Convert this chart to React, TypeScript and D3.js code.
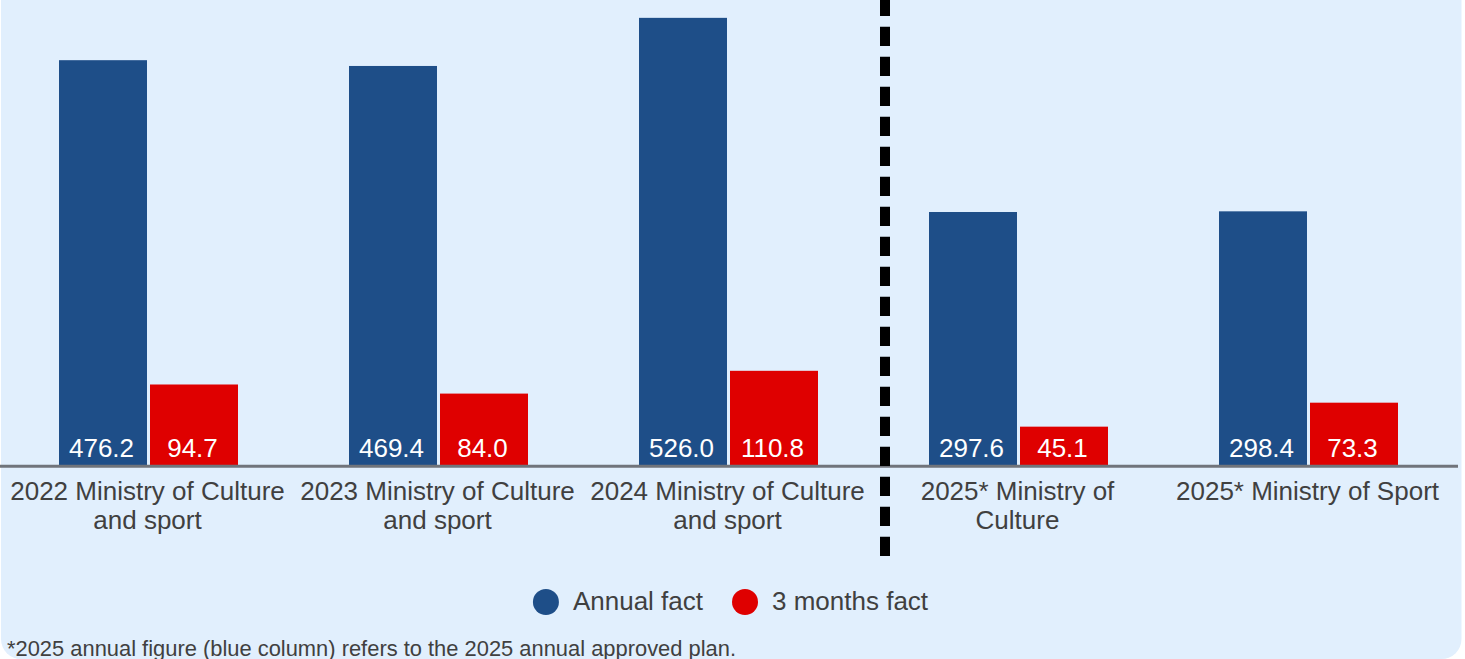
import React, { useEffect, useRef } from 'react';
import * as d3 from 'd3';

const categories = ['2022', '2023', '2024', '2025a', '2025b'];
const categoryLabels: string[][] = [
  ['2022 Ministry of Culture', 'and sport'],
  ['2023 Ministry of Culture', 'and sport'],
  ['2024 Ministry of Culture', 'and sport'],
  ['2025* Ministry of', 'Culture'],
  ['2025* Ministry of Sport'],
];
const seriesNames = ['Annual fact', '3 months fact'];
const annualFact = [476.2, 469.4, 526.0, 297.6, 298.4];
const threeMonthsFact = [94.7, 84.0, 110.8, 45.1, 73.3];
const seriesColors = ['#1e4e88', '#df0000'];
const footnote = '*2025 annual figure (blue column) refers to the 2025 annual approved plan.';

const W = 1465;
const H = 659;
const FONT = '"Liberation Sans", Arial, sans-serif';

const App: React.FC = () => {
  const ref = useRef<SVGSVGElement | null>(null);

  useEffect(() => {
    const svg = d3.select(ref.current);
    svg.selectAll('*').remove();

    // background panel, bottom corners rounded
    svg.append('rect')
      .attr('x', 1)
      .attr('y', -30)
      .attr('width', 1460.5)
      .attr('height', H + 30)
      .attr('rx', 20)
      .attr('fill', '#e1effd');

    const x = d3.scaleBand<string>()
      .domain(categories)
      .range([3.5, 1453.5]);

    const inner = d3.scaleBand<string>()
      .domain(seriesNames)
      .range([-89.5, 89.5])
      .paddingInner(0.033);

    const y = d3.scaleLinear().domain([0, 547]).range([465, 0]);

    const rows = categories.map((c, i) => ({
      cat: c,
      values: [annualFact[i], threeMonthsFact[i]],
    }));

    const groups = svg.append('g')
      .selectAll('g')
      .data(rows)
      .enter()
      .append('g')
      .attr('transform', (d) => `translate(${(x(d.cat) as number) + x.bandwidth() / 2},0)`);

    seriesNames.forEach((s, si) => {
      groups.append('rect')
        .attr('x', inner(s) as number)
        .attr('y', (d) => y(d.values[si]))
        .attr('width', inner.bandwidth())
        .attr('height', (d) => y(0) - y(d.values[si]))
        .attr('fill', seriesColors[si]);

      groups.append('text')
        .attr('x', (inner(s) as number) + inner.bandwidth() / 2 - 1.5)
        .attr('y', y(0) - 8)
        .attr('text-anchor', 'middle')
        .attr('font-family', FONT)
        .attr('font-size', 26)
        .attr('fill', '#ffffff')
        .text((d) => d.values[si].toFixed(1));
    });

    // axis line
    svg.append('line')
      .attr('x1', 0)
      .attr('x2', 1458)
      .attr('y1', y(0) + 1.2)
      .attr('y2', y(0) + 1.2)
      .attr('stroke', '#70747b')
      .attr('stroke-width', 3);

    // category labels
    groups.each(function (d, i) {
      const t = d3.select(this).append('text')
        .attr('text-anchor', 'middle')
        .attr('font-family', FONT)
        .attr('font-size', 26)
        .attr('fill', '#404040');
      categoryLabels[i].forEach((line, li) => {
        t.append('tspan').attr('x', -1).attr('y', 499.5 + li * 29).text(line);
      });
    });

    // dashed separator between 2024 and 2025
    const sepX = ((x('2024') as number) + x.bandwidth() + (x('2025a') as number)) / 2 + 11.5;
    svg.append('line')
      .attr('x1', sepX)
      .attr('x2', sepX)
      .attr('y1', 0)
      .attr('y2', 556)
      .attr('stroke', '#000')
      .attr('stroke-width', 10)
      .attr('stroke-dasharray', '19.3 10.7')
      .attr('stroke-dashoffset', 3.3);

    // legend
    const legend = svg.append('g');
    let cx = 0;
    seriesNames.forEach((s, si) => {
      const item = legend.append('g').attr('transform', `translate(${cx},0)`);
      item.append('circle').attr('cx', 13).attr('cy', 602).attr('r', 13).attr('fill', seriesColors[si]);
      const t = item.append('text')
        .attr('x', 40)
        .attr('y', 610)
        .attr('font-family', FONT)
        .attr('font-size', 26)
        .attr('fill', '#404040')
        .text(s);
      const w = (t.node() as SVGTextElement).getComputedTextLength();
      cx += 40 + w + 29;
    });
    const legendW = cx - 29;
    const center = (x.range()[0] + x.range()[1]) / 2 + 2;
    legend.attr('transform', `translate(${center - legendW / 2},0)`);

    // footnote
    svg.append('text')
      .attr('x', 7)
      .attr('y', 655.5)
      .attr('font-family', FONT)
      .attr('font-size', 21.9)
      .attr('fill', '#404040')
      .text(footnote);
  }, []);

  return (
    <svg
      ref={ref}
      width={W}
      height={H}
      style={{ position: 'absolute', left: 0, top: 0, display: 'block' }}
    />
  );
};

export default App;
